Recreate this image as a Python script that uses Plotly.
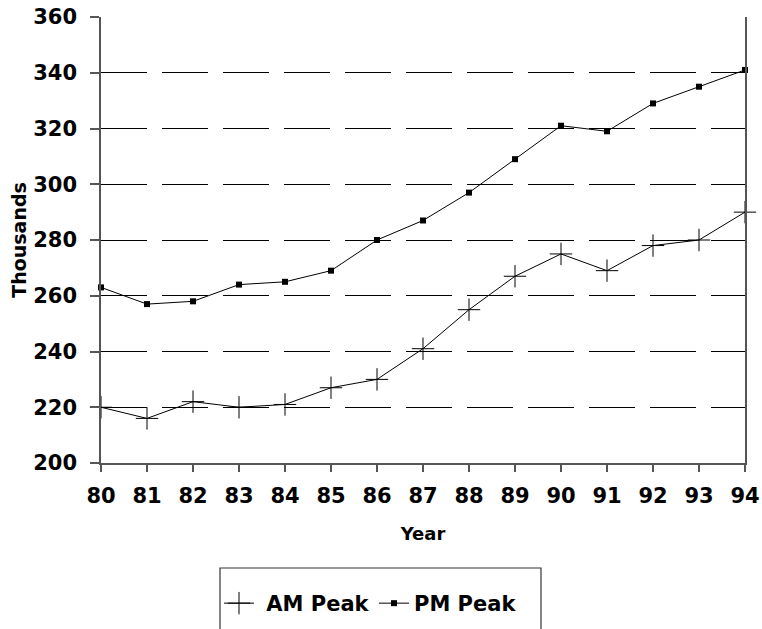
import plotly.graph_objects as go

years = [80, 81, 82, 83, 84, 85, 86, 87, 88, 89, 90, 91, 92, 93, 94]
am_peak = [220, 216, 222, 220, 221, 227, 230, 241, 255, 267, 275, 269, 278, 280, 290]
pm_peak = [263, 257, 258, 264, 265, 269, 280, 287, 297, 309, 321, 319, 329, 335, 341]
y_ticks = [200, 220, 240, 260, 280, 300, 320, 340, 360]
series_names = ["AM Peak", "PM Peak"]

FONT = "DejaVu Sans"

fig = go.Figure()
fig.add_trace(go.Scatter(
    x=years, y=am_peak, name="\u00a0" + series_names[0], mode="lines+markers", cliponaxis=False,
    line=dict(color="black", width=1),
    marker=dict(symbol="cross-thin", size=16, line=dict(color="black", width=1), color="black"),
))
fig.add_trace(go.Scatter(
    x=years, y=pm_peak, name=series_names[1], mode="lines+markers", cliponaxis=False,
    line=dict(color="black", width=1),
    marker=dict(symbol="square", size=6, color="black"),
))

fig.update_layout(
    width=762, height=629,
    margin=dict(l=101, r=17, t=17, b=166, autoexpand=False),
    paper_bgcolor="white", plot_bgcolor="white",
    font=dict(family=FONT, color="black", size=20, weight="bold"),
    showlegend=True,
    legend=dict(
        orientation="h", xref="container", yref="container",
        x=219 / 762, y=(629 - 583) / 629, xanchor="left", yanchor="top",
        font=dict(family=FONT, size=21, weight="bold", color="black"),
        bgcolor="rgba(0,0,0,0)", itemwidth=30, tracegroupgap=0,
        entrywidth=110, entrywidthmode="pixels",
    ),
    shapes=[dict(
        type="rect", xref="paper", yref="paper",
        x0=(220 - 101) / 644, x1=(541 - 101) / 644,
        y0=-0.5, y1=(463 - 568) / 446,
        line=dict(color="#333333", width=1.2), fillcolor="rgba(0,0,0,0)",
    )],
)

fig.update_xaxes(
    range=[80, 94], tickmode="array", tickvals=years, ticktext=[str(y) for y in years],
    showgrid=False, zeroline=False, automargin=False,
    showline=True, linecolor="#555555", linewidth=1.5,
    ticks="outside", ticklen=7, tickcolor="#555555", tickwidth=1.5,
    ticklabelstandoff=6,
    tickfont=dict(family=FONT, size=21, weight="bold"),
    title=dict(text="Year", font=dict(family=FONT, size=18, weight="bold"), standoff=20),
)
fig.update_yaxes(
    range=[200, 360], tickmode="array", tickvals=y_ticks,
    showgrid=True, gridcolor="black", gridwidth=1, griddash="46px,15px",
    zeroline=False, automargin=False,
    showline=True, linecolor="#555555", linewidth=1.5, mirror=True,
    ticks="outside", ticklen=9, tickcolor="#555555", tickwidth=1.5,
    ticklabelstandoff=9,
    tickfont=dict(family=FONT, size=21, weight="bold"),
    title=dict(text="Thousands", font=dict(family=FONT, size=19, weight="bold"), standoff=2),
)

fig.write_html(
    "out.html",
    config={"displayModeBar": False},
    post_script="document.body.style.margin='0px';document.body.style.padding='0px';",
)
